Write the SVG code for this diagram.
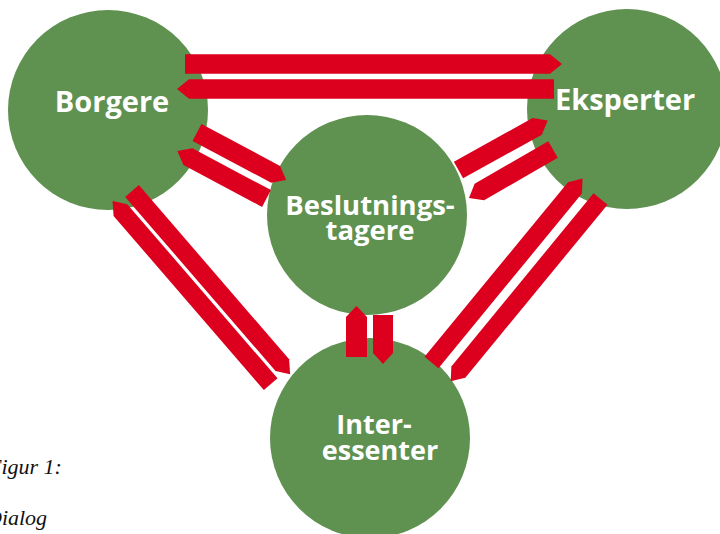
<svg xmlns="http://www.w3.org/2000/svg" width="720" height="534" viewBox="0 0 720 534">
<style>
.node{fill:#5f9150}
.lbl{fill:#fff;font-family:"Open Sans","Noto Sans",sans-serif;font-weight:700;text-anchor:middle}
.arr{fill:#dc001e}
.cap{font-family:"Liberation Serif","Times New Roman",serif;font-style:italic;font-size:22px;fill:#111}
</style>
<rect width="720" height="534" fill="#fff"/>
<g id="borgere"><circle class="node" cx="108" cy="110" r="100"/><text class="lbl" x="112" y="112" font-size="29">Borgere</text></g>
<g id="eksperter"><circle class="node" cx="627" cy="109" r="100"/><text class="lbl" x="625" y="110" font-size="29">Eksperter</text></g>
<g id="beslutningstagere"><circle class="node" cx="367" cy="215" r="100"/><text class="lbl" x="370" y="215" font-size="27.5">Beslutnings-</text><text class="lbl" x="370" y="240" font-size="27.5">tagere</text></g>
<g id="interessenter"><circle class="node" cx="370" cy="438" r="100"/><text class="lbl" x="374" y="434" font-size="27">Inter-</text><text class="lbl" x="380" y="460" font-size="27">essenter</text></g>
<g id="connectors">
<polygon class="arr" points="0,-9.7 365,-9.7 377,0 365,9.7 0,9.7" transform="translate(185,64)"/>
<polygon class="arr" points="0,-9.7 365,-9.7 377,0 365,9.7 0,9.7" transform="translate(554,89) rotate(180)"/>
<polygon class="arr" points="0,-9.5 89,-9.5 101,0 89,9.5 0,9.5" transform="translate(197,132.5) rotate(28)"/>
<polygon class="arr" points="0,-9.5 89,-9.5 101,0 89,9.5 0,9.5" transform="translate(266.5,198.5) rotate(208)"/>
<polygon class="arr" points="0,-9.5 90,-9.5 102,0 90,9.5 0,9.5" transform="translate(458.5,170) rotate(-29)"/>
<polygon class="arr" points="0,-9.5 85,-9.5 97,0 85,9.5 0,9.5" transform="translate(553,149.5) rotate(150)"/>
<polygon class="arr" points="0,-9 230,-9 242,0 230,9 0,9" transform="translate(270.7,384.2) rotate(229.2)"/>
<polygon class="arr" points="0,-9 230,-9 242,0 230,9 0,9" transform="translate(132,191) rotate(49.2)"/>
<polygon class="arr" points="0,-9 226,-9 238,0 226,9 0,9" transform="translate(431.5,362.5) rotate(-50.6)"/>
<polygon class="arr" points="0,-9 224,-9 236,0 224,9 0,9" transform="translate(600.5,199) rotate(129.4)"/>
<polygon class="arr" points="0,-10.5 40,-10.5 51,0 40,10.5 0,10.5" transform="translate(356.5,357) rotate(-90)"/>
<polygon class="arr" points="0,-10 38,-10 49,0 38,10 0,10" transform="translate(383,315) rotate(90)"/>
</g>
<text class="cap" x="-12" y="474">Figur 1:</text>
<text class="cap" x="-14" y="525">Dialog</text>
</svg>
